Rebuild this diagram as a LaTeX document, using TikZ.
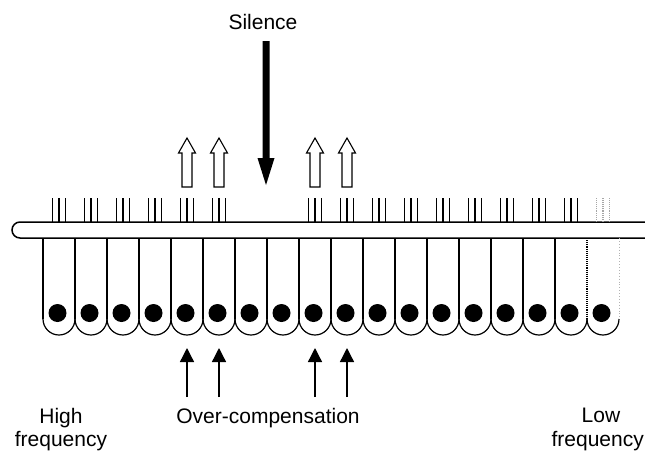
\documentclass[tikz,border=0pt]{standalone}
\usepackage{fontspec}
\setmainfont{Liberation Sans}
\usetikzlibrary{arrows.meta}
\begin{document}
\begin{tikzpicture}[x=1pt,y=-1pt,
  membrane/.style={line width=1.5pt},
  wall/.style={line width=1.2pt},
  dimwall/.style={line width=1.1pt,densely dotted},
  faintwall/.style={line width=0.9pt,gray!60,dotted},
  hair/.style={line width=1.3pt},
  fainthair/.style={line width=1.1pt,gray!70,densely dotted},
  nucleus/.style={fill=black},
  openarrow/.style={line width=1.1pt,fill=white},
  solidarrow/.style={fill=black},
  pusharrow/.style={line width=1.3pt,-{Triangle[length=14pt,width=14pt]}},
  label/.style={font=\fontsize{21}{25}\selectfont,inner sep=0pt}]
\useasboundingbox (0,0) rectangle (645,453);

% membrane bar, rounded on the high-frequency end
\draw[membrane] (646,222) -- (20,222) arc[start angle=90,end angle=270,radius=8pt] -- (646,238);

% cell walls
\foreach \k in {0,...,16}{
  \draw[wall] ({43+32*\k},238) -- ({43+32*\k},319);
}
\draw[dimwall] (587,238) -- (587,319);
\draw[faintwall] (619,238) -- (619,319);

% rounded cell bottoms and nuclei
\foreach \k in {0,...,17}{
  \draw[wall] ({43+32*\k},319) arc[start angle=180,end angle=360,radius=16pt];
  \fill[nucleus] ({57.5+32*\k},313) circle[radius=9pt];
}

% hair bundles (none over the two silent cells)
\foreach \k in {0,...,5,8,9,...,16}{
  \foreach \d in {-6.5,0,6.5}{
    \draw[hair] ({59+32*\k+\d},222) -- ({59+32*\k+\d},198);
  }
}
\foreach \d in {-6.5,0,6.5}{
  \draw[fainthair] ({603+\d},222) -- ({603+\d},198);
}

% open upward arrows over the over-compensating cells
\foreach \x in {187,219,315,347}{
  \draw[openarrow] (\x-5,187) -- (\x-5,153) -- (\x-8.5,153) -- (\x,138)
    -- (\x+8.5,153) -- (\x+5,153) -- (\x+5,187) -- cycle;
}

% silence arrow
\node[label,anchor=base] (silence) at (263,29) {Silence};
\fill[solidarrow] (262.5,41) -- (269.5,41) -- (269.5,158) -- (274.5,158)
  -- (266,185) -- (257.5,158) -- (262.5,158) -- cycle;

% arrows pointing up at the over-compensating cells
\foreach \x [count=\i] in {187,219,315,347}{
  \coordinate (tail\i) at (\x,397);
  \coordinate (tip\i) at (\x,348);
  \draw[pusharrow] (tail\i) -- (tip\i);
}

% labels
\node[label,anchor=base] (high) at (61,423) {High};
\node[label,anchor=base] (highf) at (61,446) {frequency};
\node[label,anchor=base] (over) at (268,423) {Over-compensation};
\node[label,anchor=base] (low) at (601,422) {Low};
\node[label,anchor=base east] (lowf) at (644,446) {frequency};
\end{tikzpicture}
\end{document}
